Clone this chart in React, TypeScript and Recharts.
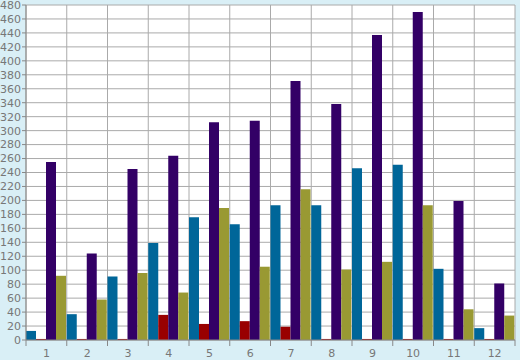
import { BarChart, Bar, XAxis, YAxis, CartesianGrid } from 'recharts';

const categories = ['1', '2', '3', '4', '5', '6', '7', '8', '9', '10', '11', '12'];
const blueValues = [13, 37, 91, 139, 176, 166, 193, 193, 246, 251, 102, 17];
const redValues = [1.5, 1.5, 1.5, 36, 23, 27, 19, 1.5, 1.5, 1.5, 1.5, 1.5];
const purpleValues = [255, 124, 245, 264, 312, 314, 371, 338, 437, 470, 199, 81];
const oliveValues = [92, 58, 96, 68, 189, 105, 216, 101, 112, 193, 44, 35];
const yTicks = Array.from({ length: 25 }, (_, i) => i * 20);

const data = categories.map((name, i) => ({
  name,
  blue: blueValues[i],
  red: redValues[i],
  purple: purpleValues[i],
  olive: oliveValues[i],
}));

const TICK_SIZE = 6;
const TICK_MARGIN = 3;

// ticks sit on the category boundaries, labels in the middle
const XTick = (props: any) => {
  const { x, y, payload, index, visibleTicksCount } = props;
  const half = payload?.offset || 20.375;
  const axisY = y - TICK_SIZE - TICK_MARGIN;
  const isLast = index === (visibleTicksCount ?? categories.length) - 1;
  return (
    <g>
      <line x1={x - half} x2={x - half} y1={axisY} y2={axisY + TICK_SIZE} stroke="#888" />
      {isLast && (
        <line x1={x + half} x2={x + half} y1={axisY} y2={axisY + TICK_SIZE} stroke="#888" />
      )}
      <text x={x} y={y} dy="0.71em" textAnchor="middle" fill="#777" fontSize={11} fontFamily="DejaVu Sans">
        {payload.value}
      </text>
    </g>
  );
};

export default function App() {
  return (
    <div style={{ position: 'absolute', top: 0, left: 0, width: 520, height: 360, background: '#d9eff6' }}>
      <BarChart
        width={520}
        height={360}
        data={data}
        margin={{ top: 5, right: 5, left: 0, bottom: 0 }}
        barGap={0}
        barCategoryGap={0}
      >
        <CartesianGrid
          stroke="#aaa"
          fill="#fff"
          verticalCoordinatesGenerator={({ offset }: any) =>
            categories.map((_, i) => offset.left + (offset.width * i) / categories.length).concat(offset.left + offset.width)
          }
        />
        <XAxis
          dataKey="name"
          height={20}
          tickSize={TICK_SIZE}
          tickMargin={TICK_MARGIN}
          tickLine={false}
          axisLine={{ stroke: '#888' }}
          interval={0}
          tick={<XTick />}
        />
        <YAxis
          width={26}
          domain={[0, 480]}
          ticks={yTicks}
          interval={0}
          tickSize={4}
          tickMargin={1}
          axisLine={{ stroke: '#888' }}
          tickLine={{ stroke: '#888' }}
          tick={{ fill: '#777', fontSize: 11, fontFamily: 'DejaVu Sans' }}
        />
        <Bar dataKey="blue" fill="#006699" isAnimationActive={false} />
        <Bar dataKey="red" fill="#990000" isAnimationActive={false} />
        <Bar dataKey="purple" fill="#330066" isAnimationActive={false} />
        <Bar dataKey="olive" fill="#999933" isAnimationActive={false} />
      </BarChart>
    </div>
  );
}
